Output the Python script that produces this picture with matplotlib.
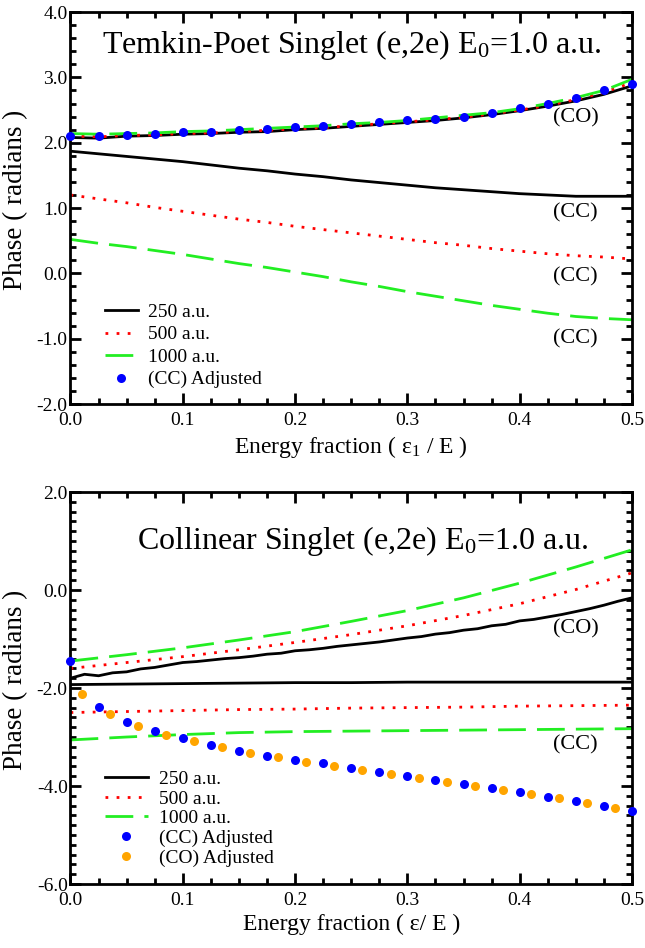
# Phase of the (e,2e) amplitude for the Temkin-Poet and collinear models.

import matplotlib
matplotlib.use('Agg')
import matplotlib.pyplot as plt
from matplotlib.ticker import MultipleLocator, FormatStrFormatter

plt.rcParams['font.family'] = ['Liberation Serif', 'DejaVu Serif']
plt.rcParams['mathtext.fontset'] = 'custom'
plt.rcParams['mathtext.rm'] = 'Liberation Serif'
plt.rcParams['mathtext.it'] = 'Liberation Serif:italic'

# ---- top panel (Temkin-Poet) ----
tp_x = [0.0, 0.025, 0.05, 0.075, 0.1, 0.125, 0.15, 0.175, 0.2, 0.225, 0.25,
        0.275, 0.3, 0.325, 0.35, 0.375, 0.4, 0.425, 0.45, 0.475, 0.5]
tp_co_250 = [2.08, 2.07, 2.10, 2.11, 2.13, 2.14, 2.16, 2.17, 2.20, 2.22, 2.25,
             2.28, 2.31, 2.34, 2.38, 2.43, 2.49, 2.56, 2.64, 2.74, 2.87]
tp_co_500 = [2.10, 2.09, 2.11, 2.12, 2.14, 2.15, 2.17, 2.19, 2.21, 2.23, 2.26,
             2.29, 2.32, 2.35, 2.39, 2.44, 2.50, 2.57, 2.66, 2.77, 2.92]
tp_co_1000 = [2.14, 2.13, 2.14, 2.15, 2.17, 2.18, 2.20, 2.22, 2.24, 2.26, 2.29,
              2.31, 2.34, 2.38, 2.42, 2.46, 2.52, 2.60, 2.69, 2.80, 2.97]
tp_cc_250 = [1.87, 1.83, 1.79, 1.75, 1.71, 1.66, 1.61, 1.57, 1.52, 1.48, 1.43,
             1.39, 1.35, 1.31, 1.28, 1.25, 1.22, 1.20, 1.18, 1.18, 1.18]
tp_cc_500 = [1.20, 1.14, 1.08, 1.01, 0.95, 0.89, 0.83, 0.78, 0.72, 0.67, 0.62,
             0.57, 0.52, 0.47, 0.43, 0.38, 0.34, 0.30, 0.27, 0.25, 0.22]
tp_cc_1000 = [0.52, 0.46, 0.41, 0.35, 0.29, 0.22, 0.15, 0.09, 0.02, -0.05, -0.13,
              -0.20, -0.28, -0.35, -0.42, -0.49, -0.55, -0.61, -0.66, -0.69, -0.71]
tp_cc_adj = [2.10, 2.11, 2.12, 2.14, 2.16, 2.17, 2.19, 2.21, 2.24, 2.26, 2.28,
             2.31, 2.34, 2.37, 2.40, 2.45, 2.53, 2.59, 2.68, 2.80, 2.90]

# ---- bottom panel (collinear) ----
cl_x = [0.0, 0.05, 0.1, 0.15, 0.2, 0.25, 0.3, 0.35, 0.4, 0.45, 0.5]
cl_co_500 = [-1.60, -1.48, -1.36, -1.22, -1.07, -0.91, -0.73, -0.52, -0.28, 0.01, 0.35]
cl_co_1000 = [-1.45, -1.32, -1.18, -1.02, -0.85, -0.64, -0.42, -0.16, 0.14, 0.47, 0.82]
cl_cc_250 = [-1.93, -1.92, -1.91, -1.90, -1.89, -1.89, -1.88, -1.88, -1.88, -1.88, -1.88]
cl_cc_500 = [-2.50, -2.48, -2.46, -2.44, -2.43, -2.41, -2.40, -2.39, -2.37, -2.36, -2.35]
cl_cc_1000 = [-3.06, -3.00, -2.95, -2.91, -2.89, -2.88, -2.87, -2.86, -2.85, -2.84, -2.83]

# the 250 a.u. CO line is wiggly, so it has a finer grid
cl_x_fine = [0.0, 0.0125, 0.025, 0.0375, 0.05, 0.0625, 0.075, 0.0875, 0.1, 0.1125,
             0.125, 0.1375, 0.15, 0.1625, 0.175, 0.1875, 0.2, 0.2125, 0.225, 0.2375,
             0.25, 0.2625, 0.275, 0.2875, 0.3, 0.3125, 0.325, 0.3375, 0.35, 0.3625,
             0.375, 0.3875, 0.4, 0.4125, 0.425, 0.4375, 0.45, 0.4625, 0.475, 0.4875, 0.5]
cl_co_250 = [-1.80, -1.72, -1.75, -1.69, -1.67, -1.61, -1.58, -1.53, -1.48, -1.46,
             -1.43, -1.40, -1.38, -1.35, -1.31, -1.29, -1.24, -1.22, -1.19, -1.15,
             -1.12, -1.09, -1.06, -1.02, -0.98, -0.95, -0.90, -0.87, -0.82, -0.79,
             -0.73, -0.70, -0.63, -0.60, -0.55, -0.50, -0.44, -0.38, -0.31, -0.23, -0.16]

cl_cc_adj_x = tp_x
cl_cc_adj = [-1.45, -2.39, -2.69, -2.88, -3.02, -3.16, -3.28, -3.38, -3.46, -3.54, -3.63,
             -3.71, -3.79, -3.87, -3.96, -4.04, -4.13, -4.22, -4.31, -4.40, -4.51]
cl_co_adj_x = [0.01, 0.035, 0.06, 0.085, 0.11, 0.135, 0.16, 0.185, 0.21, 0.235,
               0.26, 0.285, 0.31, 0.335, 0.36, 0.385, 0.41, 0.435, 0.46, 0.485]
cl_co_adj = [-2.12, -2.54, -2.78, -2.95, -3.09, -3.21, -3.32, -3.41, -3.50, -3.59,
             -3.67, -3.75, -3.83, -3.92, -4.00, -4.08, -4.17, -4.25, -4.35, -4.45]

labels = ['250 a.u.', '500 a.u.', '1000 a.u.']
GREEN = '#22ee22'
BLUE = '#0000ff'
ORANGE = '#ffa500'
lw = 2.0
dot_style = dict(ls='none', marker='o', ms=6.5, mec='none', clip_on=False, zorder=5)
dotted = (0, (1, 3))
dashed = (0, (10, 4))


def style_axes(ax, ymin, ymax, ymajor):
    ax.set_xlim(0, 0.5)
    ax.set_ylim(ymin, ymax)
    ax.xaxis.set_major_locator(MultipleLocator(0.1))
    ax.xaxis.set_minor_locator(MultipleLocator(0.025))
    ax.yaxis.set_major_locator(MultipleLocator(ymajor))
    ax.yaxis.set_minor_locator(MultipleLocator(0.2))
    ax.xaxis.set_major_formatter(FormatStrFormatter('%.1f'))
    ax.yaxis.set_major_formatter(FormatStrFormatter('%.1f'))
    ax.tick_params(which='both', direction='in', top=True, right=True, width=2)
    ax.tick_params(which='major', length=8, labelsize=14)
    ax.tick_params(which='minor', length=4)
    ax.tick_params(axis='x', which='major', pad=6)
    ax.tick_params(axis='y', which='major', pad=2)
    for s in ax.spines.values():
        s.set_linewidth(2)
    ax.set_ylabel('Phase ( radians )', fontsize=19.5)
    ax.yaxis.set_label_coords(-0.076, 0.52)


fig = plt.figure(figsize=(6.45, 9.48), dpi=100)

# top panel
ax1 = fig.add_axes([0.1093, 0.5738, 0.8705, 0.4135])
ax1.plot(tp_x, tp_co_250, color='black', lw=lw, label=labels[0])
ax1.plot(tp_x, tp_co_500, color='red', lw=lw, ls=dotted, label=labels[1])
ax1.plot(tp_x, tp_co_1000, color=GREEN, lw=lw, ls=dashed, label=labels[2])
ax1.plot(tp_x, tp_cc_250, color='black', lw=lw)
ax1.plot(tp_x, tp_cc_500, color='red', lw=lw, ls=dotted)
ax1.plot(tp_x, tp_cc_1000, color=GREEN, lw=lw, ls=dashed)
ax1.plot(tp_x, tp_cc_adj, color=BLUE, label='(CC) Adjusted', **dot_style)
style_axes(ax1, -2.0, 4.0, 1.0)
ax1.set_xlabel('Energy fraction ( ε$_1$ / E )', fontsize=17, labelpad=3)
ax1.text(0.25, 3.5, 'Temkin-Poet Singlet (e,2e) E$_0$=1.0 a.u.', fontsize=23,
         ha='center', va='center')
ax1.text(0.43, 2.38, '(CO)', fontsize=16, va='center')
for yy in [0.93, -0.05, -1.0]:
    ax1.text(0.43, yy, '(CC)', fontsize=16, va='center')
ax1.legend(loc='lower left', bbox_to_anchor=(0.03, -0.005), frameon=False, fontsize=14,
           handlelength=1.7, labelspacing=0.25, handletextpad=0.5)

# bottom panel
ax2 = fig.add_axes([0.1093, 0.0675, 0.8705, 0.4135])
ax2.plot(cl_x_fine, cl_co_250, color='black', lw=lw, label=labels[0])
ax2.plot(cl_x, cl_co_500, color='red', lw=lw, ls=dotted, label=labels[1])
ax2.plot(cl_x, cl_co_1000, color=GREEN, lw=lw, ls=dashed, label=labels[2])
ax2.plot(cl_x, cl_cc_250, color='black', lw=lw)
ax2.plot(cl_x, cl_cc_500, color='red', lw=lw, ls=dotted)
ax2.plot(cl_x, cl_cc_1000, color=GREEN, lw=lw, ls=dashed)
ax2.plot(cl_cc_adj_x, cl_cc_adj, color=BLUE, label='(CC) Adjusted', **dot_style)
ax2.plot(cl_co_adj_x, cl_co_adj, color=ORANGE, label='(CO) Adjusted', **dot_style)
style_axes(ax2, -6.0, 2.0, 2.0)
ax2.set_xlabel('Energy fraction ( ε/ E )', fontsize=17, labelpad=3)
ax2.text(0.26, 1.0, 'Collinear Singlet (e,2e) E$_0$=1.0 a.u.', fontsize=23,
         ha='center', va='center')
ax2.text(0.43, -0.8, '(CO)', fontsize=16, va='center')
ax2.text(0.43, -3.17, '(CC)', fontsize=16, va='center')
ax2.legend(loc='lower left', bbox_to_anchor=(0.03, 0.0), frameon=False, fontsize=14,
           handlelength=2.2, labelspacing=0.1, handletextpad=0.6)

fig.savefig('out.png', dpi=100)
